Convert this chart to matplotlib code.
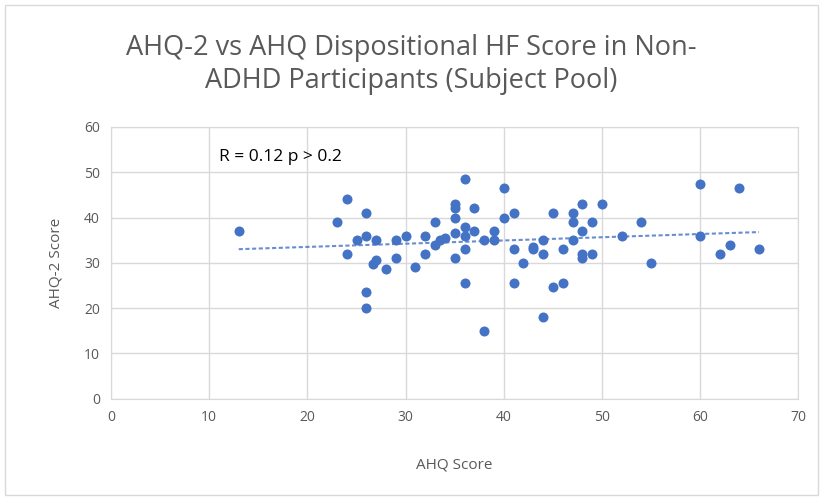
import numpy as np
import matplotlib.pyplot as plt
from matplotlib.patches import Rectangle

plt.rcParams['font.family'] = ['Open Sans', 'DejaVu Sans']

# AHQ score (x) and AHQ-2 score (y)
ahq = [13, 24, 23, 25, 24, 26, 26, 27, 27, 26.7, 28, 26, 26,
       29, 29, 30, 31, 32, 32, 33, 33, 33.5, 34, 35, 35, 35, 35, 35,
       36, 36, 36, 36, 36, 37, 37, 38, 38, 39, 39, 40, 40, 41, 41, 41,
       42, 43, 43, 44, 44, 44, 45, 45, 46, 46, 47, 47, 47, 48, 48, 48, 48,
       49, 49, 50, 52, 54, 55, 60, 60, 62, 63, 64, 66]
ahq2 = [37, 44, 39, 35, 32, 41, 36, 35, 30.6, 29.8, 28.7, 23.6, 20,
        35, 31, 36, 29, 36, 32, 39, 34, 35, 35.5, 43, 42, 40, 36.6, 31,
        48.5, 38, 36, 33, 25.6, 42, 37, 35, 15, 37, 35, 46.5, 40, 41, 33, 25.6,
        30, 33.5, 33, 35, 32, 18, 41, 24.7, 33, 25.6, 41, 39, 35, 43, 37, 32, 31,
        39, 32, 43, 36, 39, 30, 47.5, 36, 32, 34, 46.5, 33]

x = np.array(ahq)
y = np.array(ahq2)

fig = plt.figure(figsize=(8.23, 5.0), dpi=100)
ax = fig.add_axes([0.135, 0.203, 0.835, 0.543])

ax.scatter(x, y, s=52, color='#4472C4', zorder=3, linewidths=0)

# linear trendline
m, b = np.polyfit(x, y, 1)
xt = np.array([x.min(), x.max()])
ax.plot(xt, m * xt + b, color='#4472C4', linestyle=(0, (2, 1.2)), linewidth=1.5, alpha=0.8, zorder=2)

ax.set_xlim(0, 70)
ax.set_ylim(0, 60)
ax.set_xticks(range(0, 71, 10))
ax.set_yticks(range(0, 61, 10))
ax.grid(True, color='#D9D9D9', linewidth=1)
ax.set_axisbelow(True)
for s in ax.spines.values():
    s.set_color('#D9D9D9')
ax.tick_params(length=0, colors='#595959', labelsize=10, pad=8)

ax.set_xlabel('AHQ Score', fontsize=11, color='#595959', labelpad=24)
ax.set_ylabel('AHQ-2 Score', fontsize=11, color='#595959', labelpad=15)

ax.text(11, 53.3, 'R = 0.12 p > 0.2', fontsize=12.5, color='black', va='center')

fig.suptitle('AHQ-2 vs AHQ Dispositional HF Score in Non-\nADHD Participants (Subject Pool)',
             fontsize=19.5, color='#595959', y=0.933, linespacing=1.25)

fig.patches.append(Rectangle((0.006, 0.01), 0.988, 0.98, transform=fig.transFigure,
                             fill=False, edgecolor='#D9D9D9', linewidth=1))

fig.savefig('out.png', dpi=100)
